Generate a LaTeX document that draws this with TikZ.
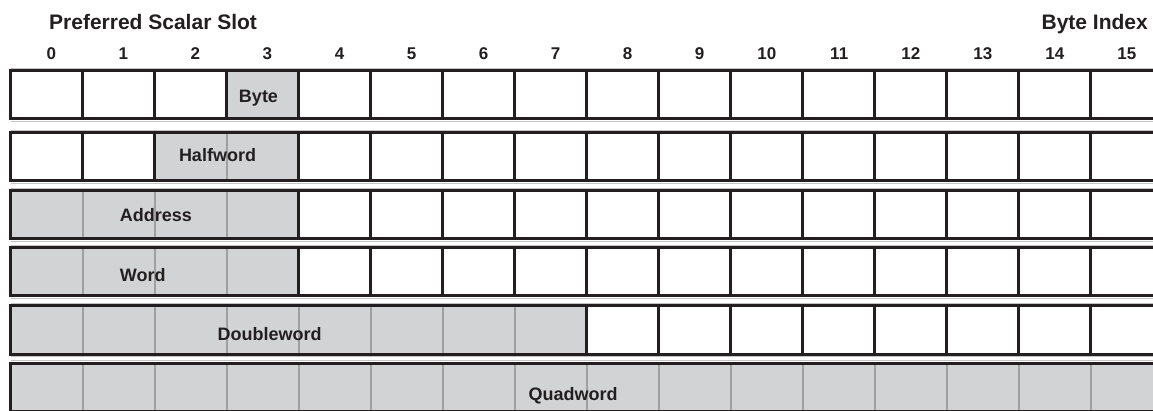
\documentclass[tikz,border=0pt]{standalone}
\usepackage{fontspec}
\setmainfont{Liberation Sans}
\definecolor{slotgray}{RGB}{209,211,212}
\definecolor{divgray}{RGB}{160,160,158}
\definecolor{lineblk}{RGB}{35,31,32}
\definecolor{halogray}{RGB}{196,196,196}
\newcommand{\ttl}{\fontsize{21}{24}\selectfont\bfseries}
\newcommand{\lab}{\fontsize{18}{20}\selectfont\bfseries}
\newcommand{\num}{\fontsize{17}{19}\selectfont\bfseries}

\begin{document}
\begin{tikzpicture}[x=1pt,y=-1pt,
    cell/.style={draw=lineblk, line width=3pt, minimum width=72pt,
                 minimum height=48pt, inner sep=0pt, outer sep=0pt,
                 anchor=north west},
    span/.style={draw=lineblk, line width=3pt},
    divider/.style={draw=divgray, line width=2.2pt},
    halo/.style={draw=halogray, line width=1.2pt},
    idx/.style={font=\num, text=lineblk, anchor=base, inner sep=0pt,
                text width=19pt, align=right},
    lbl/.style={font=\lab, text=lineblk, anchor=base, inner sep=0pt}]
  \useasboundingbox (0,0) rectangle (1153,411);
  \clip (0,0) rectangle (1153,411);

  % headings
  \node[font=\ttl, text=lineblk, anchor=base west, inner sep=0pt] (pss) at (49,29.5) {Preferred Scalar Slot};
  \node[font=\ttl, text=lineblk, anchor=base east, inner sep=0pt] (bix) at (1148,29.5) {Byte Index};
  \foreach \i in {0,...,15}
    \node[idx] (n\i) at ({46.7+72*\i},59.3) {\i};

  % rows: number / top / first and last shaded byte
  \foreach \rw/\ry/\fs/\ls in {1/71/3/3, 2/133/2/3, 3/191/0/3, 4/248/0/3, 5/306/0/7, 6/363/0/15} {
    \foreach \i in {0,...,15}
      \node[cell] (c\rw-\i) at ({10.7+72*\i},\ry) {};
    \draw[halo] ([yshift=2.3pt]c\rw-0.north west) -- ([yshift=2.3pt]c\rw-15.north east);
    \draw[halo] ([yshift=-2.3pt]c\rw-0.south west) -- ([yshift=-2.3pt]c\rw-15.south east);
    \fill[slotgray] (c\rw-\fs.north west) rectangle (c\rw-\ls.south east);
    \foreach \i in {1,...,15} {
      \ifnum\i>\fs \ifnum\i>\ls\else
        \draw[divider] (c\rw-\i.north west) -- (c\rw-\i.south west);
      \fi\fi
    }
    \draw[span] (c\rw-\fs.north west) rectangle (c\rw-\ls.south east);
  }

  % field names
  \node[lbl] (byte) at (258.5,103) {Byte};
  \node[lbl] (half) at (217.5,161.5) {Halfword};
  \node[lbl] (addr) at (156,221.5) {Address};
  \node[lbl] (word) at (142.7,281.5) {Word};
  \node[lbl] (dword) at (269.7,340.5) {Doubleword};
  \node[lbl] (qword) at (573,400.5) {Quadword};
\end{tikzpicture}
\end{document}
